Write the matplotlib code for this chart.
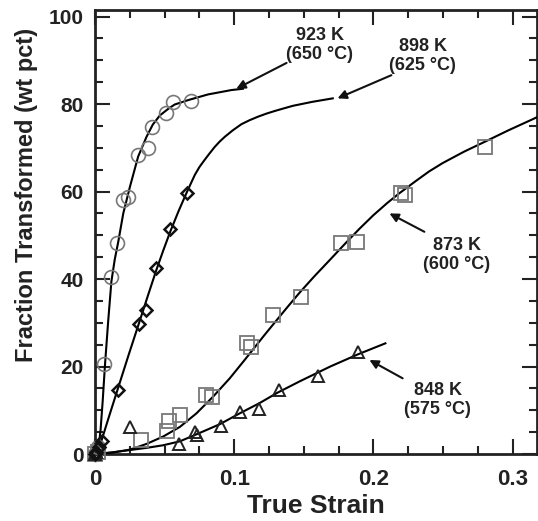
import matplotlib
matplotlib.use("Agg")
import matplotlib.pyplot as plt
from matplotlib.ticker import MultipleLocator, FixedLocator, FixedFormatter

plt.rcParams['font.family'] = ['Liberation Sans', 'DejaVu Sans']
plt.rcParams['font.weight'] = 'bold'

# ---- data: markers ----
x923 = [0.0, 0.002, 0.0065, 0.0115, 0.0155, 0.0203, 0.0234, 0.031, 0.0382, 0.0413, 0.0507, 0.0557, 0.0693]
y923 = [0.0, 1.5, 20.5, 40.4, 48.3, 58.1, 58.8, 68.3, 70.0, 74.8, 78.0, 80.5, 80.8]

x898 = [0.0, 0.001, 0.003, 0.0048, 0.0163, 0.0318, 0.0363, 0.0437, 0.0538, 0.0662]
y898 = [0.0, 0.5, 1.5, 3.0, 14.6, 29.7, 32.9, 42.6, 51.4, 59.7]

x873 = [0.0, 0.002, 0.033, 0.052, 0.0533, 0.0614, 0.0796, 0.0843, 0.1094, 0.1123, 0.128, 0.148,
        0.1768, 0.188, 0.2198, 0.223, 0.2803]
y873 = [0.0, 0.5, 3.2, 5.2, 7.6, 8.9, 13.5, 13.0, 25.4, 24.4, 31.8, 36.0,
        48.2, 48.5, 59.6, 59.3, 70.2]

x848 = [0.0, 0.001, 0.0251, 0.0602, 0.0717, 0.0733, 0.0908, 0.104, 0.1176, 0.132, 0.160, 0.1888]
y848 = [0.0, 0.5, 6.1, 2.4, 5.1, 4.3, 6.4, 9.7, 10.4, 14.6, 17.8, 23.4]

# ---- data: fitted curves ----
cx923 = [0, 0.0015, 0.0025, 0.004, 0.0055, 0.0072, 0.0095, 0.0118, 0.0142, 0.0167, 0.0203, 0.0251,
         0.031, 0.037, 0.0415, 0.0466, 0.053, 0.0573, 0.0669, 0.0812, 0.098, 0.1063]
cy923 = [0, 0.3, 1.2, 5.5, 12.0, 20.5, 30.5, 39.5, 44.5, 48.5, 55.0, 61.1,
         68.0, 72.5, 75.3, 77.4, 79.0, 79.9, 80.9, 82.2, 83.2, 83.5]

cx898 = [0, 0.002, 0.0048, 0.0105, 0.0163, 0.024, 0.032, 0.038, 0.044, 0.049, 0.054, 0.06, 0.0652,
         0.0685, 0.0717, 0.075, 0.0789, 0.0825, 0.086, 0.0895, 0.0932, 0.099, 0.1052, 0.111, 0.117,
         0.123, 0.129, 0.1355, 0.1422, 0.156, 0.1708]
cy898 = [0, 0.8, 3.2, 9.0, 14.8, 22.5, 30.3, 36.2, 42.0, 46.5, 50.8, 55.5, 59.3,
         61.6, 63.8, 65.6, 67.3, 68.8, 70.2, 71.4, 72.5, 74.0, 75.4, 76.3, 77.1,
         77.8, 78.4, 79.0, 79.6, 80.5, 81.3]

cx873 = [0, 0.012, 0.0251, 0.037, 0.049, 0.061, 0.0729, 0.0848, 0.0968, 0.1075, 0.115, 0.122,
         0.13, 0.138, 0.147, 0.1575, 0.1685, 0.18, 0.19, 0.2, 0.21, 0.2186, 0.23, 0.24, 0.2497,
         0.265, 0.2808, 0.297, 0.3135, 0.3175]
cy873 = [0, 0.3, 1.0, 2.3, 4.0, 6.2, 9.3, 13.1, 17.3, 21.5, 24.5, 27.3,
         30.4, 33.5, 36.9, 40.6, 44.3, 48.2, 51.5, 54.6, 57.4, 59.6, 62.3, 64.6, 66.5,
         69.1, 71.5, 74.0, 76.4, 77.0]

cx848 = [0, 0.013, 0.025, 0.037, 0.049, 0.061, 0.0729, 0.0896, 0.104, 0.118, 0.131, 0.147,
         0.169, 0.189, 0.2086]
cy848 = [0, 0.4, 0.9, 1.4, 2.0, 2.9, 4.5, 6.8, 9.3, 11.6, 14.0, 16.6,
         20.0, 22.8, 25.3]

labels = ["923 K\n(650 °C)", "898 K\n(625 °C)", "873 K\n(600 °C)", "848 K\n(575 °C)"]

xticks = [0, 0.1, 0.2, 0.3]
xticklabels = ["0", "0.1", "0.2", "0.3"]
yticks = [0, 20, 40, 60, 80, 100]
yticklabels = ["0", "20", "40", "60", "80", "100"]

fig = plt.figure(figsize=(5.38, 5.21), dpi=100)
ax = fig.add_axes([95/538, 1-454/521, (537-95)/538, (454-10)/521])

lc = 'black'
for cx, cy in [(cx923, cy923), (cx898, cy898), (cx873, cy873), (cx848, cy848)]:
    ax.plot(cx, cy, color=lc, lw=1.5, zorder=3, solid_joinstyle='round')

ax.plot(x873, y873, 's', ms=10, mfc='none', mec='#777777', mew=1.3, zorder=4, clip_on=False)
ax.plot(x923, y923, 'o', ms=10, mfc='none', mec='#777777', mew=1.2, zorder=4, clip_on=False)
ax.plot(x848, y848, '^', ms=8, mfc='none', mec='#222222', mew=1.4, zorder=4, clip_on=False)
ax.plot(x898, y898, 'D', ms=6.5, mfc='none', mec='#111111', mew=1.8, zorder=5, clip_on=False)

ax.set_xlim(0, 0.3175)
ax.set_ylim(0, 101.5)

# annotations
tkw = dict(ha='center', va='center', fontsize=13, fontweight='bold', color='#222222', linespacing=1.15)
akw = dict(arrowstyle='-|>', color='#111111', lw=1.5, mutation_scale=13, shrinkA=0, shrinkB=0)
ax.text(0.1613, 93.4, labels[0], **tkw)
ax.annotate('', xy=(0.1015, 83.5), xytext=(0.1376, 89.4), arrowprops=akw)
ax.text(0.2355, 91.0, labels[1], **tkw)
ax.annotate('', xy=(0.1742, 81.3), xytext=(0.2129, 86.6), arrowprops=akw)
ax.text(0.2599, 45.5, labels[2], **tkw)
ax.annotate('', xy=(0.2115, 55.0), xytext=(0.2366, 50.8), arrowprops=akw)
ax.text(0.2462, 12.4, labels[3], **tkw)
ax.annotate('', xy=(0.1971, 21.5), xytext=(0.221, 17.3), arrowprops=akw)

# ticks
ax.xaxis.set_major_locator(FixedLocator(xticks))
ax.xaxis.set_major_formatter(FixedFormatter(xticklabels))
ax.yaxis.set_major_locator(FixedLocator(yticks))
ax.yaxis.set_major_formatter(FixedFormatter(yticklabels))
ax.xaxis.set_minor_locator(MultipleLocator(0.025))
ax.yaxis.set_minor_locator(MultipleLocator(5))
ax.tick_params(which='both', direction='in', top=True, right=True, width=1.5, colors='#222222')
ax.tick_params(which='major', length=11)
ax.tick_params(which='minor', length=6)
ax.tick_params(axis='x', which='major', labelsize=16, pad=11)
ax.tick_params(axis='y', which='major', labelsize=15, pad=8)
for lab in ax.get_xticklabels() + ax.get_yticklabels():
    lab.set_fontweight('bold')
for s in ax.spines.values():
    s.set_linewidth(2.0)
    s.set_color('#222222')

ax.set_xlabel('True Strain', fontsize=19, fontweight='bold', color='#222222', labelpad=3)
ax.set_ylabel('Fraction Transformed (wt pct)', fontsize=17, fontweight='bold', color='#222222')
ax.yaxis.set_label_coords(-0.13, 0.583)

fig.savefig('out.png', dpi=100)
